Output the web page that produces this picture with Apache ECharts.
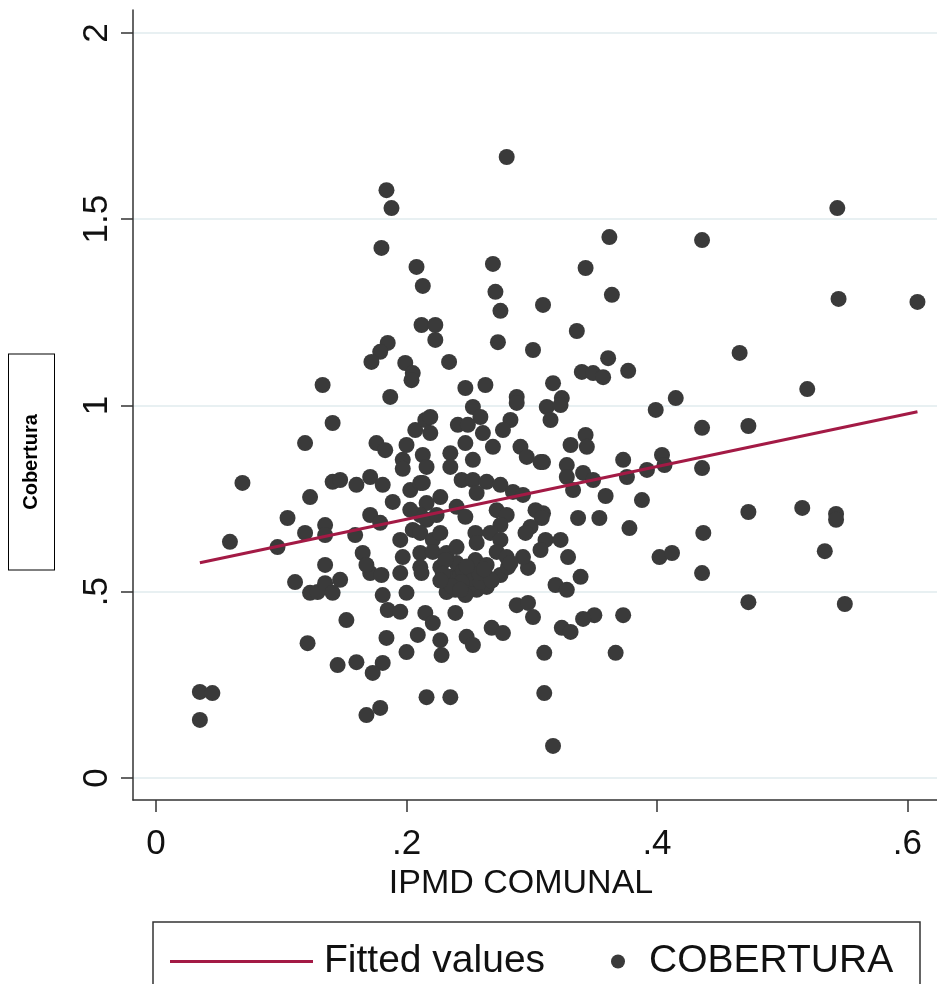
<!DOCTYPE html>
<html><head><meta charset="utf-8">
<script src="https://cdn.jsdelivr.net/npm/echarts@6/dist/echarts.min.js"></script>
<style>html,body{margin:0;padding:0;background:#fff}#c{width:937px;height:984px}</style>
</head><body><div id="c"></div>
<script>
// COBERTURA scatter points (IPMD COMUNAL, Cobertura)
const cobX = [
.035,.045,.035,.059,.069,.105,.097,.119,.123,.119,.111,.121,.123,.133,.141,.141,.147,.160,.171,.181,
.189,.171,.179,.135,.135,.159,.165,.135,.195,.197,.205,.211,.176,.183,.200,.207,.215,.197,.203,.211,
.129,.135,.147,.141,.171,.168,.180,.195,.212,.181,.185,.195,.200,.215,.209,.152,.184,.200,.145,.160,
.181,.173,.168,.179,.216,.235,.184,.188,.180,.185,.179,.172,.199,.187,.205,.204,.208,.213,.212,.223,
.223,.234,.280,.269,.271,.275,.273,.309,.301,.247,.263,.317,.288,.324,.343,.362,.364,.336,.361,.377,
.340,.349,.357,.544,.436,.545,.608,.466,.520,.399,.415,.436,.473,.404,.392,.436,.473,.516,.543,.543,
.534,.437,.436,.473,.550,.373,.350,.341,.324,.331,.367,.310,.310,.317,.359,.388,.337,.354,.378,.402,
.412,.339,.319,.328,.311,.323,.329,.309,.328,.328,.341,.349,.333,.373,.376,.406,.312,.323,.315,.331,
.343,.344,.309,.235,.251,.232,.256,.264,.275,.281,.297,.288,.297,.301,.239,.221,.227,.228,.248,.253,
.268,.277,.253,.259,.288,.283,.277,.219,.219,.241,.249,.261,.247,.269,.291,.296,.307,.235,.235,.253,
.213,.216,.213,.244,.253,.264,.275,.285,.293,.256,.227,.216,.240,.247,.211,.216,.224,.272,.280,.275,
.303,.308,.299,.211,.221,.227,.255,.267,.275,.295,.211,.221,.232,.240,.256,.272,.280,.293,.307,.227,
.240,.255,.264,.283,.235,.243,.251,.247,.239,.263,.231,.229,.245,.253,.259,.244,.236,.258,.268,.248,
.262,.227,.243,.197,.203
];
const cobY = [
.231,.228,.156,.634,.792,.698,.620,.658,.754,.899,.526,.362,.497,1.055,.953,.795,.800,.787,.808,.787,
.741,.706,.685,.679,.652,.652,.604,.572,.639,.593,.666,.566,.899,.880,.894,.934,.961,.854,.773,.792,
.499,.523,.532,.497,.550,.572,.545,.550,.550,.491,.451,.446,.497,.443,.384,.424,.376,.338,.303,.311,
.309,.282,.169,.188,.217,.217,1.578,1.530,1.423,1.168,1.144,1.117,1.114,1.023,1.087,1.068,1.372,1.321,1.216,1.216,
1.176,1.117,1.667,1.380,1.305,1.254,1.170,1.270,1.149,1.047,1.055,1.060,1.023,1.020,1.369,1.452,1.297,1.200,1.127,1.093,
1.090,1.087,1.076,1.530,1.444,1.286,1.278,1.141,1.044,.988,1.020,.940,.945,.867,.827,.832,.714,.725,.709,.693,
.609,.658,.550,.472,.467,.437,.437,.427,.403,.392,.336,.336,.228,.086,.757,.746,.698,.698,.671,.593,
.604,.540,.518,.505,.639,.639,.593,.711,.840,.808,.819,.800,.773,.854,.808,.840,.996,1.001,.961,.894,
.921,.889,.848,.540,.558,.499,.505,.513,.545,.566,.564,.464,.470,.432,.443,.416,.370,.330,.379,.357,
.403,.389,.996,.969,1.007,.961,.934,.969,.926,.948,.948,.926,.899,.889,.889,.862,.848,.872,.835,.854,
.867,.835,.792,.800,.800,.795,.787,.768,.760,.765,.754,.738,.728,.701,.706,.693,.706,.719,.706,.679,
.719,.698,.674,.658,.639,.658,.658,.658,.639,.658,.604,.607,.604,.620,.631,.607,.593,.593,.612,.566,
.577,.585,.572,.577,.532,.545,.518,.491,.505,.545,.585,.548,.556,.534,.526,.525,.515,.550,.530,.568,
.560,.530,.505,.830,.720
];
// Fitted values line
const fitX = [0.035, 0.608];
const fitY = [0.578, 0.983];
// Axis ticks
const xTicks = [0, 0.2, 0.4, 0.6];
const xTickLabels = ['0', '.2', '.4', '.6'];
const yTicks = [0, 0.5, 1, 1.5, 2];
const yTickLabels = ['0', '.5', '1', '1.5', '2'];

const F = "'Liberation Sans',Arial,sans-serif";
function lab(ticks, labels) {
  return v => { const i = ticks.findIndex(t => Math.abs(t - v) < 1e-9); return i >= 0 ? labels[i] : ''; };
}
const scatterData = cobX.map((x, i) => [x, cobY[i]]);
const fitData = fitX.map((x, i) => [x, fitY[i]]);

const chart = echarts.init(document.getElementById('c'), null, {renderer: 'canvas'});
chart.setOption({
  animation: false,
  backgroundColor: '#fff',
  grid: {left: 133, right: 0, top: 10, bottom: 184, containLabel: false},
  xAxis: {
    type: 'value', min: -0.0184, max: 0.6236,
    axisLine: {show: true, onZero: false, lineStyle: {color: '#333', width: 1.5}},
    axisTick: {show: true, customValues: xTicks, length: 12, lineStyle: {color: '#333', width: 1.5}},
    axisLabel: {customValues: xTicks, formatter: lab(xTicks, xTickLabels), fontFamily: F, fontSize: 35, color: '#111', margin: 27},
    splitLine: {show: false},
    name: 'IPMD COMUNAL', nameLocation: 'middle', nameGap: 64,
    nameTextStyle: {fontFamily: F, fontSize: 34, color: '#111', padding: [0, 28, 0, 0]}
  },
  yAxis: {
    type: 'value', min: -0.0591, max: 2.0617,
    axisLine: {show: true, onZero: false, lineStyle: {color: '#333', width: 1.5}},
    axisTick: {show: true, customValues: yTicks, length: 12, lineStyle: {color: '#333', width: 1.5}},
    axisLabel: {customValues: yTicks, formatter: lab(yTicks, yTickLabels), rotate: 90, fontFamily: F, fontSize: 35, color: '#111', margin: 18},
    splitLine: {show: true, lineStyle: {color: '#e8f0f2', width: 2}},
    name: '{a|Cobertura}{s|}', nameLocation: 'middle', nameRotate: 90, nameGap: 79,
    nameTextStyle: {
      rich: {
        a: {fontFamily: F, fontWeight: 'bold', fontSize: 20, color: '#000', borderColor: '#000', borderWidth: 1,
            backgroundColor: '#fff', width: 215, height: 45, lineHeight: 45, align: 'center', verticalAlign: 'middle'},
        s: {width: 114, height: 45}
      }
    }
  },
  legend: [
    {data: [{name: 'Fitted values', icon: 'rect'}], left: 165, top: 937, itemWidth: 143, itemHeight: 3, padding: 5,
      textStyle: {fontFamily: F, fontSize: 39, color: '#111', padding: [0, 0, 0, 6]}},
    {data: ['COBERTURA'], left: 606, top: 937, itemWidth: 52, itemHeight: 14, padding: 5,
      textStyle: {fontFamily: F, fontSize: 39, color: '#111'}}
  ],
  graphic: [{type: 'rect', shape: {x: 153, y: 922, width: 767, height: 90}, style: {fill: 'none', stroke: '#333', lineWidth: 1.5}, silent: true}],
  series: [
    {name: 'COBERTURA', type: 'scatter', data: scatterData, symbol: 'circle', symbolSize: 16,
      itemStyle: {color: '#3a3a3a', opacity: 1}, z: 2},
    {name: 'Fitted values', type: 'line', data: fitData, symbol: 'none', showSymbol: false,
      lineStyle: {color: '#a31a45', width: 3}, itemStyle: {color: '#a31a45'}, z: 3}
  ]
});
</script></body></html>
